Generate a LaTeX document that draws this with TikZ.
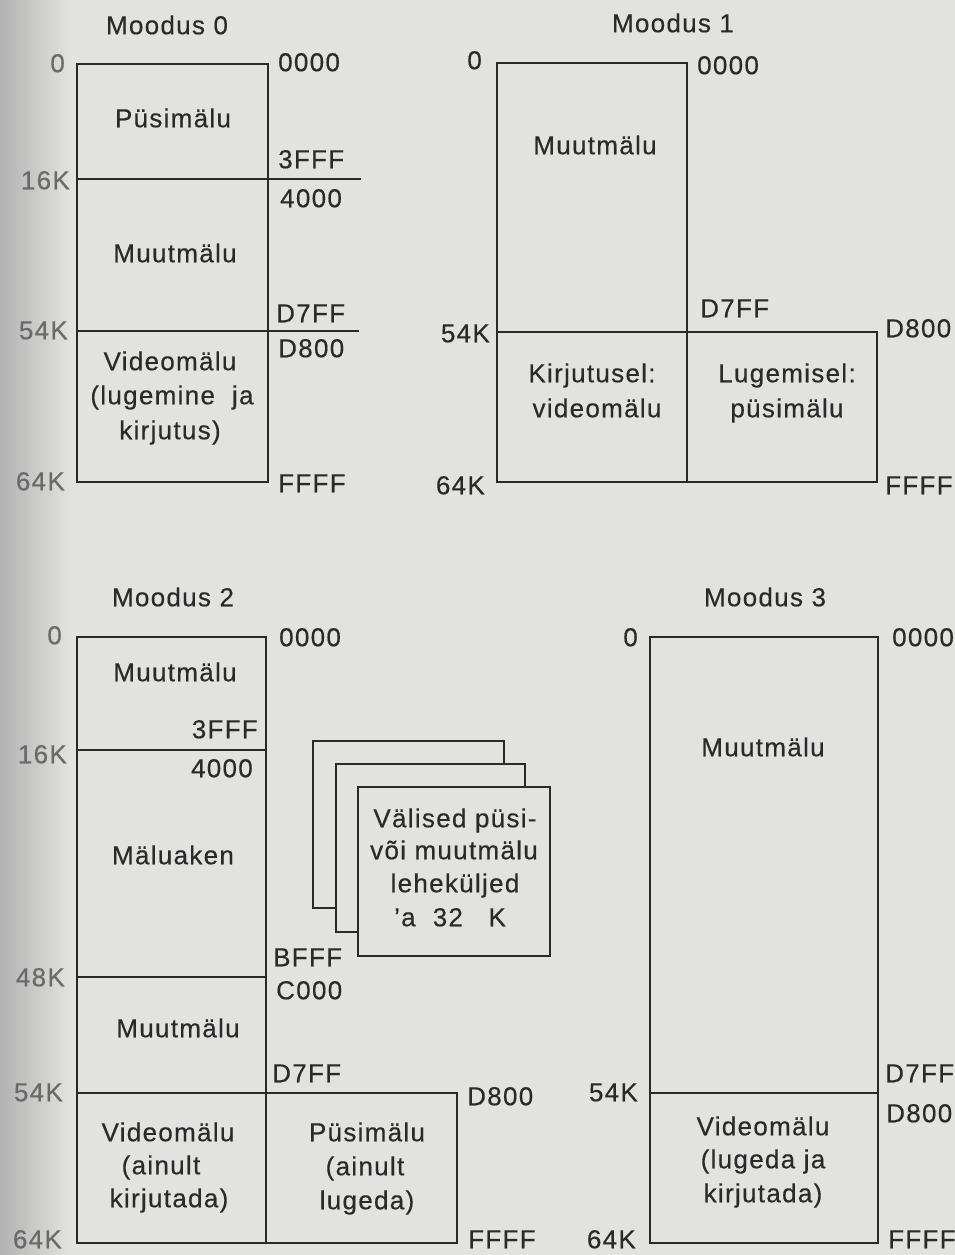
\documentclass[tikz,border=0pt]{standalone}
\usepackage{fontspec}
\setmainfont{Liberation Sans}[LetterSpace=5, FakeBold=0.4]
\definecolor{ink}{HTML}{2A2A2A}
\definecolor{paper}{HTML}{E2E2E0}
\tikzset{
  lbl/.style={inner sep=0pt, text height=18.5pt, text depth=0pt, text=ink},
  rl/.style={lbl, anchor=west},
  ll/.style={lbl, anchor=east},
  fl/.style={ll, text=ink!70},
  box/.style={draw=ink, line width=1.9pt},
  page/.style={draw=ink, line width=1.9pt, fill=paper}
}
\begin{document}
\begin{tikzpicture}[x=1pt, y=-1pt, font=\fontsize{26}{31}\selectfont]
\useasboundingbox (0,0) rectangle (955,1255);
\fill[paper] (0,0) rectangle (955,1255);
\shade[left color=gray!60, right color=paper] (0,0) rectangle (70,1255);

% ---------------- Moodus 0 ----------------
\node[lbl] (t0) at (167,25) {Moodus 0};
\coordinate (m0tl) at (77,64);
\coordinate (m0br) at (268,482);
\draw[box] (m0tl) rectangle (m0br);
\coordinate (m0a1) at (77,179); \coordinate (m0a2) at (361,179);
\coordinate (m0b1) at (77,331); \coordinate (m0b2) at (359,331);
\draw[box] (m0a1) -- (m0a2);
\draw[box] (m0b1) -- (m0b2);
\node[fl] (m0l0) at (65,63) {0};
\node[fl] (m0l16) at (70,180) {16K};
\node[fl] (m0l54) at (68,330) {54K};
\node[fl] (m0l64) at (65,481) {64K};
\node[rl] (m0r0) at (278,62) {0000};
\node[rl] (m0r1) at (278,159) {3FFF};
\node[rl] (m0r2) at (280,198) {4000};
\node[rl] (m0r3) at (276,313) {D7FF};
\node[rl] (m0r4) at (278,348) {D800};
\node[rl] (m0r5) at (278,483) {FFFF};
\node[lbl] (m0c1) at (173,118) {Püsimälu};
\node[lbl] (m0c2) at (175,253) {Muutmälu};
\node[lbl] (m0c3) at (170,361) {Videomälu};
\node[lbl] (m0c4) at (172,395) {(lugemine\ \ ja};
\node[lbl] (m0c5) at (170,430) {kirjutus)};

% ---------------- Moodus 1 ----------------
\node[lbl] (t1) at (673,23) {Moodus 1};
\coordinate (m1tl) at (497,63);
\coordinate (m1br) at (687,482);
\draw[box] (m1tl) rectangle (m1br);
\coordinate (m1rt) at (687,332);
\coordinate (m1rb) at (877,482);
\coordinate (m1l) at (497,332);
\draw[box] (m1rt) rectangle (m1rb);
\draw[box] (m1l) -- (m1rt);
\node[ll] (m1l0) at (482,60) {0};
\node[ll] (m1l54) at (490,333) {54K};
\node[ll] (m1l64) at (485,485) {64K};
\node[rl] (m1r0) at (697,65) {0000};
\node[rl] (m1r1) at (700,308) {D7FF};
\node[rl] (m1r2) at (885,328) {D800};
\node[rl] (m1r3) at (885,485) {FFFF};
\node[lbl] (m1c1) at (595,145) {Muutmälu};
\node[lbl] (m1c2) at (592,373) {Kirjutusel:};
\node[lbl] (m1c3) at (597,408) {videomälu};
\node[lbl] (m1c4) at (787,373) {Lugemisel:};
\node[lbl] (m1c5) at (787,408) {püsimälu};

% ---------------- Moodus 2 ----------------
\node[lbl] (t2) at (173,597) {Moodus 2};
\coordinate (m2tl) at (77,637);
\coordinate (m2br) at (266,1243);
\draw[box] (m2tl) rectangle (m2br);
\coordinate (m2a1) at (77,750); \coordinate (m2a2) at (266,750);
\coordinate (m2b1) at (77,977); \coordinate (m2b2) at (266,977);
\coordinate (m2c1) at (77,1093); \coordinate (m2c2) at (266,1093);
\draw[box] (m2a1) -- (m2a2);
\draw[box] (m2b1) -- (m2b2);
\draw[box] (m2c1) -- (m2c2);
\coordinate (m2rb) at (457,1243);
\draw[box] (m2c2) rectangle (m2rb);
\node[fl] (m2l0) at (62,635) {0};
\node[fl] (m2l16) at (67,754) {16K};
\node[fl] (m2l48) at (65,977) {48K};
\node[fl] (m2l54) at (63,1092) {54K};
\node[fl] (m2l64) at (62,1239) {64K};
\node[rl] (m2r0) at (279,637) {0000};
\node[lbl, anchor=east] (m2i1) at (258,729) {3FFF};
\node[lbl, anchor=east] (m2i2) at (253,768) {4000};
\node[rl] (m2r1) at (273,957) {BFFF};
\node[rl] (m2r2) at (276,990) {C000};
\node[rl] (m2r3) at (272,1073) {D7FF};
\node[rl] (m2r4) at (467,1096) {D800};
\node[rl] (m2r5) at (468,1239) {FFFF};
\node[lbl] (m2c1) at (175,672) {Muutmälu};
\node[lbl] (m2c2) at (173,855) {Mäluaken};
\node[lbl] (m2c3) at (178,1028) {Muutmälu};
\node[lbl] (m2c4) at (168,1132) {Videomälu};
\node[lbl] (m2c5) at (161,1165) {(ainult};
\node[lbl] (m2c6) at (169,1198) {kirjutada)};
\node[lbl] (m2c7) at (367,1132) {Püsimälu};
\node[lbl] (m2c8) at (365,1166) {(ainult};
\node[lbl] (m2c9) at (367,1200) {lugeda)};
% stacked pages
\coordinate (pa1) at (313,741); \coordinate (pa2) at (504,908);
\coordinate (pb1) at (336,764); \coordinate (pb2) at (525,932);
\coordinate (pc1) at (358,787); \coordinate (pc2) at (550,956);
\draw[page] (pa1) rectangle (pa2);
\draw[page] (pb1) rectangle (pb2);
\draw[page] (pc1) rectangle (pc2);
\node[lbl] (pt1) at (455,818) {Välised püsi-};
\node[lbl] (pt2) at (454,850) {või muutmälu};
\node[lbl] (pt3) at (455,883) {leheküljed};
\node[lbl] (pt4) at (450,917) {'a\ \ 32\ \ \ K};

% ---------------- Moodus 3 ----------------
\node[lbl] (t3) at (765,597) {Moodus 3};
\coordinate (m3tl) at (650,637);
\coordinate (m3br) at (878,1243);
\draw[box] (m3tl) rectangle (m3br);
\coordinate (m3a1) at (650,1093); \coordinate (m3a2) at (878,1093);
\draw[box] (m3a1) -- (m3a2);
\node[ll] (m3l0) at (638,637) {0};
\node[ll] (m3l54) at (638,1092) {54K};
\node[ll] (m3l64) at (636,1239) {64K};
\node[rl] (m3r0) at (892,637) {0000};
\node[rl] (m3r1) at (885,1073) {D7FF};
\node[rl] (m3r2) at (886,1113) {D800};
\node[rl] (m3r3) at (888,1239) {FFFF};
\node[lbl] (m3c1) at (763,747) {Muutmälu};
\node[lbl] (m3c2) at (763,1126) {Videomälu};
\node[lbl] (m3c3) at (763,1159) {(lugeda ja};
\node[lbl] (m3c4) at (763,1193) {kirjutada)};
\end{tikzpicture}
\end{document}
